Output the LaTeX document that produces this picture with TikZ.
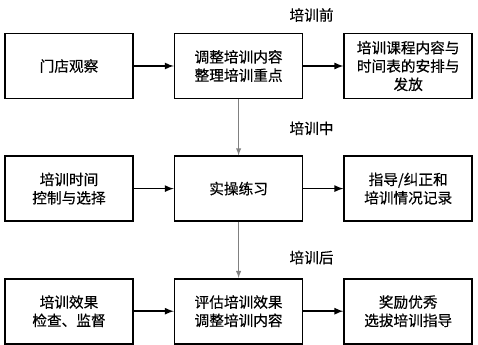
\documentclass[tikz,border=0pt]{standalone}
\usepackage{fontspec}
\setmainfont[FakeBold=0.4]{Noto Sans CJK SC}
\usetikzlibrary{positioning}

\begin{document}
\begin{tikzpicture}[node distance=42pt and 30pt, x=0.75pt, y=0.75pt, >=latex,
    box/.style={draw, line width=1.2pt, minimum width=96pt, minimum height=48.75pt,
      inner sep=1pt, align=center, font=\fontsize{11pt}{13.75pt}\selectfont},
    phase/.style={inner sep=0pt, font=\fontsize{11pt}{13.75pt}\selectfont},
    flow/.style={->, line width=1.3pt},
    down/.style={->, line width=0.8pt, gray}]
      \useasboundingbox (0,0) rectangle (478,-345);
      \node[box] (A) at (69,-66) {门店观察};
      \node[box] (B) [right=of A] {调整培训内容\\整理培训重点};
      \node[box] (C) [right=of B] {培训课程内容与\\时间表的安排与\\发放};
      \node[box] (D) [below=of A] {培训时间\\控制与选择};
      \node[box] (E) [below=of B] {实操练习};
      \node[box] (F) [below=of C] {指导/纠正和\\培训情况记录};
      \node[box] (G) [below=of D] {培训效果\\检查、监督};
      \node[box] (H) [below=of E] {评估培训效果\\调整培训内容};
      \node[box] (I) [below=of F] {奖励优秀\\选拔培训指导};
      \node[phase] (pre) [above right=8pt and 38pt of B.north] {培训前};
      \node[phase] (mid) [above right=15pt and 38pt of E.north] {培训中};
      \node[phase] (post) [above right=10pt and 38pt of H.north] {培训后};
      \draw[flow] (A) -- (B);
      \draw[flow] (B) -- (C);
      \draw[flow] (D) -- (E);
      \draw[flow] (E) -- (F);
      \draw[flow] (G) -- (H);
      \draw[flow] (H) -- (I);
      \draw[down] (B) -- (E);
      \draw[down] (E) -- (H);
    \end{tikzpicture}
\end{document}
